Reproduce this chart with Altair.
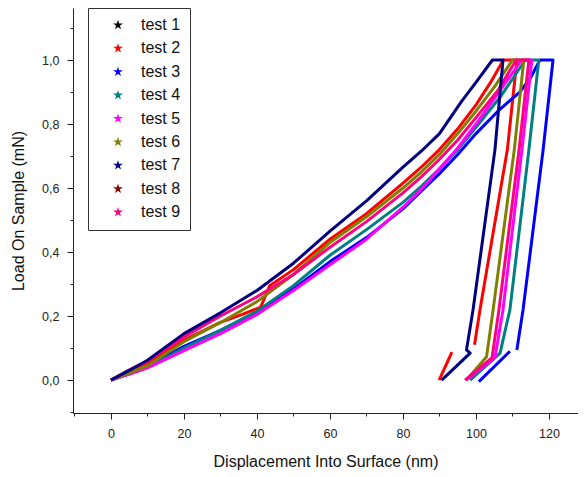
import altair as alt
import pandas as pd

names = ["test 1", "test 2", "test 3", "test 4", "test 5", "test 6", "test 7", "test 8", "test 9"]
colors = ["#000000", "#FF0000", "#0000FF", "#008080", "#FF00FF", "#808000", "#000080", "#800000", "#FF0080"]

# test 2 (red)
t2_x = [0, 5, 10, 20, 30, 36, 41, 43.5, 50, 60, 70, 80, 85, 90, 95, 100, 104, 107.5, 111.2, 108.6, 101.1, 99.6]
t2_y = [0, 0.025, 0.05, 0.125, 0.18, 0.205, 0.228, 0.295, 0.345, 0.44, 0.52, 0.615, 0.665, 0.72, 0.785, 0.86, 0.93, 1.0, 1.0, 0.72, 0.22, 0.11]
t2_tail_x = [93.4, 89.9]
t2_tail_y = [0.0875, 0.0]
# test 3 (blue)
t3_x = [0, 5, 10, 20, 30, 40, 50, 60, 70, 80, 85, 90, 95, 100, 106, 112, 115, 117.5, 121.1, 118.4, 112.9, 111.2]
t3_y = [0, 0.02, 0.042, 0.105, 0.155, 0.21, 0.285, 0.37, 0.445, 0.535, 0.59, 0.645, 0.705, 0.77, 0.84, 0.9, 0.945, 1.0, 1.0, 0.72, 0.22, 0.094]
t3_tail_x = [109.3, 100.8]
t3_tail_y = [0.09, -0.005]
# test 4 (teal)
t4_x = [0, 5, 10, 20, 30, 40, 50, 60, 70, 80, 85, 90, 95, 100, 107, 113.5, 117.2, 114.5, 109.3, 106.6, 98.4]
t4_y = [0, 0.02, 0.04, 0.1, 0.155, 0.215, 0.295, 0.39, 0.47, 0.555, 0.605, 0.66, 0.72, 0.79, 0.89, 1.0, 1.0, 0.72, 0.22, 0.084, 0.0]
# test 5 (magenta)
t5_x = [0, 5, 10, 20, 30, 40, 50, 60, 70, 80, 85, 90, 95, 100, 106, 112.5, 115.3, 112.6, 107.4, 105.2, 97.3]
t5_y = [0, 0.018, 0.038, 0.092, 0.145, 0.205, 0.28, 0.36, 0.44, 0.54, 0.595, 0.66, 0.725, 0.8, 0.895, 1.0, 1.0, 0.72, 0.22, 0.07, 0.0]
# test 6 (olive)
t6_x = [0, 5, 10, 20, 30, 40, 50, 60, 70, 80, 85, 90, 95, 100, 105, 110, 113.1, 110.5, 104.7, 102.9, 97.4]
t6_y = [0, 0.022, 0.045, 0.12, 0.18, 0.245, 0.33, 0.43, 0.51, 0.6, 0.65, 0.705, 0.77, 0.84, 0.915, 1.0, 1.0, 0.72, 0.22, 0.073, 0.0]
# test 7 (navy)
t7_x = [0, 5, 10, 20, 30, 40, 50, 60, 70, 80, 85, 90, 93, 96, 100, 104.5, 107.4, 105.2, 99.2, 97.4, 98.4, 90.6]
t7_y = [0, 0.03, 0.062, 0.145, 0.21, 0.28, 0.365, 0.465, 0.56, 0.665, 0.715, 0.77, 0.82, 0.87, 0.93, 1.0, 1.0, 0.72, 0.22, 0.094, 0.084, 0.0]
# test 9 (pink)
t9_x = [0, 5, 10, 20, 30, 40, 50, 60, 70, 80, 85, 90, 95, 100, 106, 111, 114.5, 111.8, 106.3, 104.4, 97.0]
t9_y = [0, 0.032, 0.06, 0.135, 0.2, 0.26, 0.33, 0.415, 0.495, 0.585, 0.635, 0.69, 0.75, 0.82, 0.905, 1.0, 1.0, 0.72, 0.22, 0.07, 0.0]

series = [
    ("test 2", "2a", t2_x, t2_y), ("test 2", "2b", t2_tail_x, t2_tail_y),
    ("test 3", "3a", t3_x, t3_y), ("test 3", "3b", t3_tail_x, t3_tail_y),
    ("test 4", "4a", t4_x, t4_y),
    ("test 5", "5a", t5_x, t5_y),
    ("test 6", "6a", t6_x, t6_y),
    ("test 9", "9a", t9_x, t9_y),
    ("test 7", "7a", t7_x, t7_y),
]
rows = []
for name, seg, xs, ys in series:
    for i, (x, y) in enumerate(zip(xs, ys)):
        rows.append({"test": name, "seg": seg, "i": i, "x": x, "y": y})
df = pd.DataFrame(rows)

star = "M0,-1L0.2245,-0.309L0.951,-0.309L0.363,0.118L0.588,0.809L0,0.382L-0.588,0.809L-0.363,0.118L-0.951,-0.309L-0.2245,-0.309Z"
font = "Liberation Sans"

x_vals = list(range(-10, 130, 10))
y_vals = [round(-0.1 + 0.1 * k, 1) for k in range(13)]

chart = alt.Chart(df).mark_line(strokeWidth=3, clip=True, strokeJoin="round").encode(
    x=alt.X("x:Q",
            scale=alt.Scale(domain=[-10.41, 127.95], nice=False, zero=False),
            axis=alt.Axis(values=x_vals, grid=False,
                          labelExpr="datum.value % 20 === 0 ? datum.label : ''",
                          tickSize=alt.condition("datum.value % 20 === 0", alt.value(6), alt.value(3)),
                          title="Displacement Into Surface (nm)",
                          titleFontSize=16, titleFontWeight="normal", titleFont=font,
                          titleColor="#111", titlePadding=14,
                          labelFont=font, labelFontSize=12.5, labelColor="#222", labelPadding=8,
                          domainColor="#222", tickColor="#222", labelFlush=False)),
    y=alt.Y("y:Q",
            scale=alt.Scale(domain=[-0.103, 1.1625], nice=False, zero=False),
            axis=alt.Axis(values=y_vals, grid=False,
                          labelExpr="abs(round(datum.value*10)) % 2 === 0 ? replace(format(datum.value, '.1f'), '.', ',') : ''",
                          tickSize=alt.condition("abs(round(datum.value*10)) % 2 === 0", alt.value(6), alt.value(3)),
                          title="Load On Sample (mN)",
                          titleFontSize=16, titleFontWeight="normal", titleFont=font,
                          titleColor="#111", titlePadding=15,
                          labelFont=font, labelFontSize=12.5, labelColor="#222", labelPadding=8,
                          domainColor="#222", tickColor="#222", labelFlush=False)),
    color=alt.Color("test:N",
                    scale=alt.Scale(domain=names, range=colors),
                    legend=alt.Legend(title=None, orient="none", legendX=15, legendY=0,
                                      symbolType=star, symbolSize=30, symbolStrokeWidth=1.5,
                                      symbolOffset=13, labelOffset=15,
                                      labelFont=font, labelFontSize=16, labelColor="#111",
                                      rowPadding=7.4, padding=9,
                                      strokeColor="#333", fillColor="white")),
    detail="seg:N",
    order=alt.Order("i:Q"),
).properties(
    width=505, height=405,
    autosize=alt.AutoSizeParams(type="none"),
    padding={"left": 65, "top": 0, "right": 0, "bottom": 61},
).configure_view(stroke=None)

chart.save("out.html", embed_options={"renderer": "svg", "actions": False})
